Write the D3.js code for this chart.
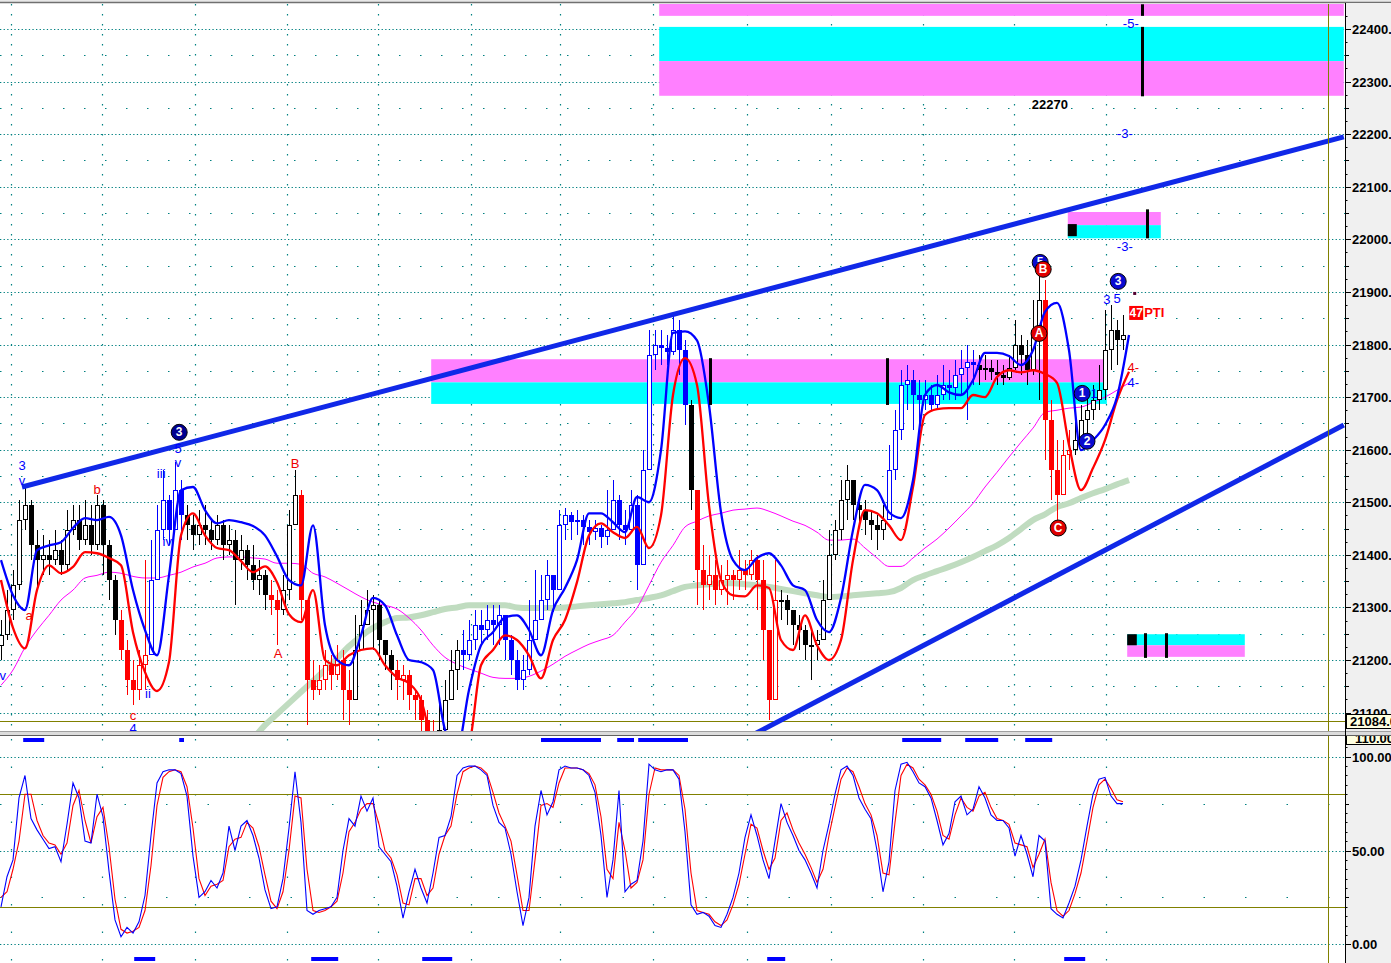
<!DOCTYPE html>
<html><head><meta charset="utf-8">
<script src="https://cdn.jsdelivr.net/npm/d3@7"></script>
<style>body{margin:0;background:#fff;overflow:hidden}svg{display:block;font-family:"Liberation Sans",Arial,sans-serif}</style>
</head><body>
<svg id="chart" width="1391" height="963"></svg>
<script>
// ---------- DATA ----------
const close = [21247,21295,21342,21466,21494,21418,21390,21399,21390,21409,
21380,21447,21466,21428,21456,21418,21494,21418,21352,21276,
21219,21162,21143,21190,21209,21352,21447,21504,21447,21523,
21475,21456,21437,21456,21447,21428,21456,21418,21428,21390,
21409,21380,21352,21361,21323,21314,21295,21333,21456,21514,
21314,21162,21143,21162,21190,21171,21200,21143,21124,21219,
21266,21295,21304,21238,21209,21181,21162,21171,21133,21124,
21086,21057,21048,21067,21124,21181,21219,21209,21238,21266,
21257,21276,21266,21285,21238,21200,21162,21181,21238,21276,
21314,21361,21333,21456,21475,21462,21466,21453,21443,21451,
21434,21447,21504,21456,21447,21494,21380,21561,21780,21799,
21793,21785,21827,21789,21685,21523,21371,21342,21361,21333,
21352,21361,21352,21371,21361,21390,21352,21257,21124,21314,
21314,21295,21266,21257,21228,21228,21238,21314,21399,21447,
21504,21542,21494,21485,21466,21456,21447,21466,21561,21637,
21723,21732,21704,21694,21704,21685,21704,21723,21717,21742,
21755,21766,21761,21751,21755,21747,21742,21736,21755,21799,
21780,21751,21827,21884,21656,21561,21514,21590,21599,21618,
21656,21675,21694,21713,21789,21827,21808,21818];
const high = [21276,21333,21371,21504,21529,21504,21447,21437,21428,21447,
21428,21485,21494,21494,21504,21494,21514,21504,21428,21361,
21295,21238,21200,21219,21390,21428,21494,21561,21514,21576,
21542,21494,21475,21485,21494,21466,21475,21466,21456,21447,
21437,21418,21418,21390,21371,21352,21333,21361,21485,21561,
21523,21314,21200,21190,21219,21209,21228,21219,21181,21285,
21314,21333,21323,21314,21238,21219,21200,21190,21181,21143,
21133,21105,21086,21124,21162,21219,21238,21257,21276,21295,
21295,21304,21304,21304,21285,21247,21219,21209,21314,21371,
21361,21390,21361,21485,21489,21481,21485,21475,21466,21466,
21456,21523,21542,21514,21485,21523,21514,21599,21827,21827,
21827,21818,21856,21846,21808,21694,21523,21418,21399,21390,
21380,21390,21371,21409,21390,21409,21399,21390,21238,21390,
21333,21323,21295,21285,21266,21257,21257,21352,21447,21466,
21542,21571,21542,21514,21504,21485,21475,21494,21609,21675,
21751,21761,21751,21732,21732,21723,21742,21761,21751,21770,
21789,21799,21789,21780,21780,21770,21770,21761,21780,21846,
21818,21808,21884,21941,21923,21694,21618,21618,21637,21656,
21685,21704,21723,21761,21865,21875,21846,21856];
const low = [21200,21238,21276,21333,21447,21390,21333,21361,21361,21380,
21361,21371,21437,21409,21418,21399,21409,21361,21314,21247,
21200,21133,21114,21124,21143,21238,21352,21428,21418,21466,
21428,21428,21409,21418,21418,21409,21418,21390,21399,21304,
21371,21352,21333,21323,21295,21285,21228,21285,21314,21466,
21276,21076,21124,21133,21143,21143,21162,21086,21076,21143,
21219,21266,21219,21200,21181,21143,21124,21124,21105,21086,
21057,21038,21038,21038,21057,21124,21143,21181,21200,21219,
21228,21238,21228,21228,21200,21171,21143,21143,21171,21238,
21276,21295,21291,21352,21428,21428,21437,21418,21418,21428,
21413,21418,21456,21428,21418,21456,21333,21466,21580,21751,
21761,21761,21780,21742,21647,21485,21304,21295,21314,21304,
21323,21304,21314,21333,21333,21352,21295,21200,21086,21238,
21276,21266,21228,21219,21200,21162,21200,21238,21314,21390,
21428,21466,21466,21456,21437,21428,21409,21428,21466,21542,
21618,21675,21637,21647,21675,21675,21679,21694,21694,21694,
21704,21656,21723,21723,21732,21732,21723,21723,21732,21751,
21742,21723,21742,21694,21580,21504,21466,21542,21561,21590,
21609,21628,21656,21675,21694,21751,21761,21789];
// candle colour segments (first bar index of each segment)
const segStart = [0,20,25,31,45,47,50,59,66,73,77,115,116,130,148,163,174,179];
const segKind  = ['plain','down','up','plain','down','plain','down','plain','down','plain','up','plain','down','plain','up','plain','down','plain'];

// smoothed lines, one value every 2 bars
const fastLine = [21390,21323,21295,21409,21418,21424,21451,21470,21466,21472,
21437,21333,21257,21209,21361,21523,21529,21485,21460,21466,
21462,21455,21437,21397,21352,21342,21456,21266,21200,21190,
21247,21318,21304,21247,21200,21196,21181,21067,21029,21143,
21228,21253,21281,21285,21257,21209,21295,21337,21390,21479,
21479,21462,21443,21510,21500,21599,21822,21825,21808,21685,
21481,21390,21371,21394,21403,21380,21342,21333,21276,21253,
21318,21447,21533,21523,21481,21470,21542,21704,21723,21709,
21704,21732,21784,21784,21778,21761,21789,21862,21879,21789,
21599,21618,21647,21700,21818];
const slowLine = [21352,21261,21222,21333,21380,21365,21377,21405,21403,21394,
21380,21253,21177,21141,21196,21437,21479,21437,21413,21409,
21388,21367,21378,21348,21287,21272,21333,21200,21190,21209,
21219,21222,21190,21167,21156,21124,21038,21010,21010,21038,
21190,21219,21247,21238,21209,21165,21238,21276,21348,21437,
21460,21443,21432,21453,21413,21475,21704,21774,21723,21494,
21352,21323,21321,21342,21337,21238,21219,21285,21228,21200,
21238,21390,21485,21479,21456,21428,21529,21666,21677,21679,
21679,21704,21700,21738,21751,21747,21751,21744,21727,21609,
21523,21565,21618,21694,21748];
const maShort = [21152,21181,21224,21257,21285,21314,21333,21356,21361,21367,
21365,21359,21356,21356,21361,21367,21377,21384,21394,21396,
21396,21394,21392,21384,21384,21382,21365,21358,21346,21333,
21320,21310,21304,21297,21280,21257,21228,21205,21192,21183,
21175,21167,21165,21165,21169,21179,21192,21207,21219,21230,
21238,21247,21272,21299,21342,21386,21418,21453,21464,21474,
21479,21485,21487,21489,21483,21474,21464,21456,21443,21428,
21428,21430,21413,21394,21378,21378,21394,21413,21430,21451,
21474,21498,21529,21557,21586,21614,21641,21671,21675,21679,
21681,21690,21700,21713,21727];
const maLong = [null,null,null,null,null,null,null,null,null,null,
null,null,null,null,null,null,null,null,null,null,null,
21050,21076,21097,21118,21139,21160,21181,21203,21226,21245,21261,21272,21280,21281,
21285,21291,21297,21300,21304,21304,21304,21304,21300,21299,21299,21299,21300,21302,
21304,21306,21308,21310,21314,21318,21323,21331,21339,21342,21344,21346,21346,21344,
21342,21339,21335,21331,21327,21323,21320,21321,21323,21325,21327,21329,21337,21352,
21361,21369,21377,21386,21396,21407,21418,21432,21449,21466,21477,21491,21498,21508,
21517,21525,21534,21542];

// stochastic (lower panel)
const stochK = [20,36,45,78,90,67,61,56,51,52, 44,64,86,78,55,54,80,68,39,13,
4,9,6,12,26,58,86,92,93,93, 91,79,47,25,28,34,30,38,63,50,
63,66,58,46,29,19,20,35,62,92, 65,18,16,18,19,20,25,50,67,63,
79,71,78,52,48,44,31,14,28,40, 30,22,38,57,58,68,90,94,95,95,
93,90,74,65,62,48,28,10,25,63, 82,69,76,93,95,94,94,93,90,81,
58,25,45,82,28,32,34,55,96,93, 92,93,93,88,60,21,16,17,15,10,
9,16,25,38,57,69,58,45,35,55, 75,65,58,50,45,38,30,50,64,80,
93,95,90,78,72,67,50,28,44,82, 96,97,92,86,84,78,66,53,59,76,
79,69,72,84,78,69,66,66,62,47, 58,48,36,58,55,19,16,14,22,31,
45,63,80,88,89,79,75,75];
const stochD = [25,28,40,55,80,80,66,58,54,53, 48,54,74,82,66,54,68,73,52,24,
8,6,7,9,18,42,74,89,92,93, 92,84,62,35,26,31,32,34,52,56,
57,65,62,52,37,23,19,28,50,79, 78,40,18,17,18,20,23,38,60,65,
72,75,75,64,50,46,37,22,21,35, 35,26,30,48,58,63,80,92,94,95,
94,91,81,70,63,55,37,18,18,45, 74,75,73,86,94,94,94,93,91,85,
68,40,35,65,50,30,33,45,80,94, 93,93,93,90,72,38,18,17,16,12,
10,13,21,32,48,64,62,50,40,46, 66,70,61,54,48,41,33,40,58,73,
88,94,92,84,75,69,58,38,37,65, 90,96,94,88,85,80,71,58,56,69,
78,73,71,79,81,73,67,66,64,54, 53,52,41,48,56,33,18,15,18,27,
38,55,73,85,88,83,77,76];

// axis ticks / grid
const priceTicks = [21100,21200,21300,21400,21500,21600,21700,21800,21900,22000,22100,22200,22300,22400];
const oscTicks = [0,50,100];
const gridBars = [1.7,16.8,32.3,47.7,62.8,78.3,93.2,108.7,124.3,138.3,153.7,168.8,184.2];
const lastPrice = 21084;
const oscLevels = [20,80];
const oscTop = 110;

// trend channel [bar, price]
const trendUpper = [[3.5,21529],[223.8,22195]];
const trendLower = [[123.2,21045],[223.8,21647]];

// zones
const bandX0 = [109.7,109.7,109.7,71.7,71.7,177.8,177.8,187.7,187.7];
const bandX1 = [223.8,223.8,223.8,184.3,184.3,193.3,193.3,207.3,207.3];
const bandHi = [22460,22404,22339,21772,21728,22052,22027,21249,21228];
const bandLo = [22425,22339,22273,21728,21687,22027,22002,21228,21206];
const bandKind = ['sell','buy','sell','sell','buy','sell','buy','buy','sell'];
const blockX0 = [177.8,187.7], blockX1 = [179.3,189.3], blockHi = [22029,21249], blockLo = [22006,21228];
const markBar = [190.2,190.2,118.2,147.7,191,190.7,194.2];
const markHi  = [22447,22404,21774,21774,22057,21251,21251];
const markLo  = [22425,22272,21685,21685,22002,21204,21204];
const targetText = '22270', targetBar = 174.8, targetPrice = 22257;

// signal strips
const mainSigStart = [3.7,29.7,90,102.7,106.2,150.2,160.7,170.7];
const mainSigEnd   = [7.2,30.5,100,105.5,114.5,156.7,166.2,175.2];
const lowSigStart  = [22.2,51.7,70.2,127.7,177.2];
const lowSigEnd    = [25.7,56.2,75.2,130.7,180.7];

// wave labels
const lblText  = ['3','v','5','v','iii','iv','ii','v','4','a','b','c','A','B','-3-','-3-','-5-','3','5','4-','4-','1'];
const lblBar   = [3.5,3.5,29.5,29.5,26.7,27.7,24.5,0.3,22,4.7,16,22,46.2,49,187.3,187.3,188.3,184.3,186,188.7,188.7,182.2];
const lblPrice = [21569,21542,21603,21576,21555,21426,21137,21171,21070,21285,21525,21095,21213,21574,22202,21987,22410,21886,21888,21757,21727,21707];
const lblKind  = ['w','w','w','w','w','w','w','w','w','c','c','c','c','c','w','w','w','w','w','c','w','w'];
const circText  = ['3','5','B','A','3','1','2','C'];
const circBar   = [29.7,173.2,173.7,173,186.2,180.2,181,176.2];
const circPrice = [21633,21956,21943,21821,21920,21707,21616,21451];
const circKind  = ['navy','w','c','c','w','w','w','c'];
const ptiValue = 47, ptiBar = 189.2, ptiPrice = 21860;

// ---------- DRAW ----------
const W = 1391, H = 963, AX = 1345;
const MT = 4, MB = 731, LT = 739, LB = 963;
const svg = d3.select('#chart');
const x = d3.scaleLinear().domain([0,224]).range([1,1345]);
const y = d3.scaleLinear().domain([21200,22400]).range([660,29]);
const y2 = d3.scaleLinear().domain([0,100]).range([944.3,756.7]);
const TEAL = '#008080', OLIVE = '#808000';

svg.append('rect').attr('width',W).attr('height',H).attr('fill','#fff');
const defs = svg.append('defs');
defs.append('clipPath').attr('id','cm').append('rect').attr('x',0).attr('y',MT).attr('width',AX).attr('height',MB-MT);
defs.append('clipPath').attr('id','cl').append('rect').attr('x',0).attr('y',LT).attr('width',AX).attr('height',LB-LT);
const gm = svg.append('g').attr('clip-path','url(#cm)');
const gl = svg.append('g').attr('clip-path','url(#cl)');

// grid main
const half = d3.range(21050,22500,100);
gm.selectAll('.hs').data(half).join('line').attr('x1',0).attr('x2',AX).attr('y1',d=>Math.round(y(d))+0.5).attr('y2',d=>Math.round(y(d))+0.5)
  .attr('stroke',TEAL).attr('stroke-width',1.2).attr('stroke-dasharray','1.5,19.5');
gm.selectAll('.hd').data(priceTicks).join('line').attr('x1',0).attr('x2',AX).attr('y1',d=>Math.round(y(d))+0.5).attr('y2',d=>Math.round(y(d))+0.5)
  .attr('stroke',TEAL).attr('stroke-width',1.2).attr('stroke-dasharray','1.3,2.3');
gm.selectAll('.vg').data(gridBars).join('line').attr('x1',d=>Math.round(x(d))+0.5).attr('x2',d=>Math.round(x(d))+0.5).attr('y1',MT).attr('y2',MB)
  .attr('stroke',TEAL).attr('stroke-width',1.2).attr('stroke-dasharray','1.5,8.5');

// bands
gm.selectAll('.band').data(bandX0).join('rect')
  .attr('x',(d,i)=>x(bandX0[i])).attr('width',(d,i)=>x(bandX1[i])-x(bandX0[i]))
  .attr('y',(d,i)=>y(bandHi[i])).attr('height',(d,i)=>y(bandLo[i])-y(bandHi[i]))
  .attr('fill',(d,i)=>bandKind[i]==='sell'?'#ff80ff':'#00ffff');
gm.selectAll('.blk').data(blockX0).join('rect')
  .attr('x',(d,i)=>x(blockX0[i])).attr('width',(d,i)=>x(blockX1[i])-x(blockX0[i]))
  .attr('y',(d,i)=>y(blockHi[i])).attr('height',(d,i)=>y(blockLo[i])-y(blockHi[i])).attr('fill','#000');

// last price line
gm.append('line').attr('x1',0).attr('x2',AX).attr('y1',Math.round(y(lastPrice))+0.5).attr('y2',Math.round(y(lastPrice))+0.5).attr('stroke',OLIVE).attr('stroke-width',1);

// moving averages
const lineIdx = (arr,scale)=>d3.line().defined(d=>d!=null).x((d,j)=>x(2*j)).y(d=>scale(d)).curve(d3.curveMonotoneX)(arr);
gm.append('path').attr('d',lineIdx(maLong,y)).attr('fill','none').attr('stroke','#c0dcc0').attr('stroke-width',6);
gm.append('path').attr('d',lineIdx(maShort,y)).attr('fill','none').attr('stroke','#ff00ff').attr('stroke-width',1);

// candles
const kindAt = i => { let k='plain'; for (let s=0;s<segStart.length;s++) if (i>=segStart[s]) k=segKind[s]; return k; };
const kindCol = {plain:'#000000', down:'#ff0000', up:'#0000ff'};
const cg = gm.append('g').attr('shape-rendering','crispEdges');
close.forEach((c,i)=>{
  const o = i>0 ? close[i-1] : c-20;
  const col = kindCol[kindAt(i)];
  const cx = Math.round(x(i));
  const hi = Math.max(high[i],o,c), lo = Math.min(low[i],o,c);
  cg.append('line').attr('x1',cx+0.5).attr('x2',cx+0.5).attr('y1',y(hi)).attr('y2',y(lo)).attr('stroke',col).attr('stroke-width',1);
  const top = Math.round(y(Math.max(o,c))), bot = Math.round(y(Math.min(o,c)));
  const h = Math.max(1,bot-top);
  if (c>=o) cg.append('rect').attr('x',cx-1.5).attr('y',top+0.5).attr('width',4).attr('height',Math.max(1,h-1)).attr('fill','#fff').attr('stroke',col).attr('stroke-width',1);
  else cg.append('rect').attr('x',cx-2).attr('y',top).attr('width',5).attr('height',h).attr('fill',col);
});

// smoothed lines
gm.append('path').attr('d',lineIdx(slowLine,y)).attr('fill','none').attr('stroke','#ff0000').attr('stroke-width',2.3);
gm.append('path').attr('d',lineIdx(fastLine,y)).attr('fill','none').attr('stroke','#0000ff').attr('stroke-width',2.3);

// trend lines
[trendUpper,trendLower].forEach(t=>{
  gm.append('line').attr('x1',x(t[0][0])).attr('y1',y(t[0][1])).attr('x2',x(t[1][0])).attr('y2',y(t[1][1]))
    .attr('stroke','#1028e8').attr('stroke-width',5);
});

// black marker bars
gm.selectAll('.mk').data(markBar).join('line').attr('x1',d=>Math.round(x(d))+0.5).attr('x2',d=>Math.round(x(d))+0.5)
  .attr('y1',(d,i)=>y(markHi[i])).attr('y2',(d,i)=>y(markLo[i])).attr('stroke','#000').attr('stroke-width',3);

// target label
gm.append('text').attr('x',x(targetBar)).attr('y',y(targetPrice)).attr('text-anchor','middle').attr('dominant-baseline','central')
  .attr('font-size',13).attr('font-weight','bold').attr('fill','#000').text(targetText);

// wave labels
gm.selectAll('.lbl').data(lblText).join('text').attr('x',(d,i)=>x(lblBar[i])).attr('y',(d,i)=>y(lblPrice[i]))
  .attr('text-anchor','middle').attr('dominant-baseline','central').attr('font-size',13)
  .attr('fill',(d,i)=>lblKind[i]==='c'?'#ee0000':'#0000ff').text(d=>d);

// circles
const circFill = {navy:'#000090', w:'#0a0ad0', c:'#e00000'};
circText.forEach((t,i)=>{
  const g = gm.append('g').attr('transform',`translate(${x(circBar[i])},${y(circPrice[i])})`);
  g.append('circle').attr('r',8).attr('fill',circFill[circKind[i]]).attr('stroke','#000').attr('stroke-width',1);
  g.append('text').attr('text-anchor','middle').attr('dominant-baseline','central').attr('font-size',12).attr('font-weight','bold').attr('fill','#fff').text(t);
});

// PTI
const px = x(ptiBar), py = y(ptiPrice);
gm.append('rect').attr('x',px-7).attr('y',py-7).attr('width',14).attr('height',14).attr('fill','#ff0000');
gm.append('text').attr('x',px).attr('y',py).attr('text-anchor','middle').attr('dominant-baseline','central').attr('font-size',12).attr('font-weight','bold').attr('fill','#fff').text(ptiValue);
gm.append('text').attr('x',px+8).attr('y',py).attr('dominant-baseline','central').attr('font-size',13).attr('font-weight','bold').attr('fill','#ff0000').text('PTI');
gm.append('rect').attr('x',px-3).attr('y',py-21).attr('width',3).attr('height',3).attr('fill','#500030');

// ---------- lower panel ----------
gl.selectAll('.ld').data(oscTicks).join('line').attr('x1',0).attr('x2',AX).attr('y1',d=>Math.round(y2(d))+0.5).attr('y2',d=>Math.round(y2(d))+0.5)
  .attr('stroke',TEAL).attr('stroke-width',1.2).attr('stroke-dasharray','1.3,2.3');
gl.selectAll('.ls').data([25,75]).join('line').attr('x1',0).attr('x2',AX).attr('y1',d=>Math.round(y2(d))+0.5).attr('y2',d=>Math.round(y2(d))+0.5)
  .attr('stroke',TEAL).attr('stroke-width',1.2).attr('stroke-dasharray','1.5,40');
gl.selectAll('.lv').data(gridBars).join('line').attr('x1',d=>Math.round(x(d))+0.5).attr('x2',d=>Math.round(x(d))+0.5).attr('y1',LT).attr('y2',LB)
  .attr('stroke',TEAL).attr('stroke-width',1.2).attr('stroke-dasharray','1.5,26');
gl.selectAll('.ol').data(oscLevels).join('line').attr('x1',0).attr('x2',AX).attr('y1',d=>Math.round(y2(d))+0.5).attr('y2',d=>Math.round(y2(d))+0.5)
  .attr('stroke',OLIVE).attr('stroke-width',1.2);
const sline = d3.line().x((d,i)=>x(i)).y(d=>y2(d));
gl.append('path').attr('d',sline(stochD)).attr('fill','none').attr('stroke','#ff0000').attr('stroke-width',1.1);
gl.append('path').attr('d',sline(stochK)).attr('fill','none').attr('stroke','#0000ff').attr('stroke-width',1.1);
gl.selectAll('.ss').data(lowSigStart).join('rect').attr('x',(d,i)=>x(lowSigStart[i])).attr('width',(d,i)=>x(lowSigEnd[i])-x(lowSigStart[i]))
  .attr('y',957).attr('height',4).attr('fill','#0000ff');

// current-bar vertical line
svg.append('line').attr('x1',1328.5).attr('x2',1328.5).attr('y1',MT).attr('y2',H).attr('stroke',OLIVE).attr('stroke-width',1);

// top frame
svg.append('rect').attr('x',0).attr('y',0).attr('width',W).attr('height',2).attr('fill','#e8e8e8');
svg.append('line').attr('x1',0).attr('x2',W).attr('y1',2.5).attr('y2',2.5).attr('stroke','#707070').attr('stroke-width',1.5);

// right axis
svg.append('rect').attr('x',AX).attr('y',3).attr('width',W-AX).attr('height',H-3).attr('fill','#f0f0f0');
const ax = svg.append('g').attr('font-size',13).attr('font-weight','bold').attr('fill','#000');
d3.range(21075,22450,25).forEach(v=>{
  if (v%100===0) return;
  const len = v%50===0 ? 3 : 1.5;
  ax.append('line').attr('x1',AX+1).attr('x2',AX+1+len).attr('y1',Math.round(y(v))+0.5).attr('y2',Math.round(y(v))+0.5).attr('stroke','#000');
});
priceTicks.forEach(v=>{
  const yy = Math.round(y(v))+0.5;
  ax.append('line').attr('x1',AX).attr('x2',AX+6).attr('y1',yy).attr('y2',yy).attr('stroke','#000');
  ax.append('text').attr('x',AX+7).attr('y',yy).attr('dominant-baseline','central').text(v.toFixed(2));
});
d3.range(5,110,5).forEach(v=>{
  if (v%50===0) return;
  const len = v%25===0 ? 3 : 1.5;
  ax.append('line').attr('x1',AX+1).attr('x2',AX+1+len).attr('y1',Math.round(y2(v))+0.5).attr('y2',Math.round(y2(v))+0.5).attr('stroke','#000');
});
oscTicks.forEach(v=>{
  const yy = Math.round(y2(v))+0.5;
  ax.append('line').attr('x1',AX).attr('x2',AX+6).attr('y1',yy).attr('y2',yy).attr('stroke','#000');
  ax.append('text').attr('x',AX+7).attr('y',yy).attr('dominant-baseline','central').text(v.toFixed(2));
});

// oscillator top label (partly covered by the separator)
ax.append('rect').attr('x',AX+1.5).attr('y',731.5).attr('width',W-AX).attr('height',13).attr('fill','#ffffe1').attr('stroke','#000');
ax.append('text').attr('x',AX+10).attr('y',738.5).attr('dominant-baseline','central').text(oscTop.toFixed(2));

// panel separator
svg.append('rect').attr('x',0).attr('y',731).attr('width',W).attr('height',5).attr('fill','#dcdcdc');
svg.append('line').attr('x1',0).attr('x2',W).attr('y1',731.5).attr('y2',731.5).attr('stroke','#a0a0a0');
svg.append('line').attr('x1',0).attr('x2',W).attr('y1',735.5).attr('y2',735.5).attr('stroke','#606060');

// signal strip under main panel
svg.selectAll('.ms').data(mainSigStart).join('rect').attr('x',(d,i)=>x(mainSigStart[i])).attr('width',(d,i)=>x(mainSigEnd[i])-x(mainSigStart[i]))
  .attr('y',738).attr('height',4).attr('fill','#0000ff');

// last price box (centred on the price line)
const ly = Math.round(y(lastPrice));
ax.append('rect').attr('x',AX+1.5).attr('y',ly-6.5).attr('width',W-AX).attr('height',14).attr('fill','#ffffe1').attr('stroke','#000');
ax.append('text').attr('x',AX+5).attr('y',ly+0.5).attr('dominant-baseline','central').text(lastPrice.toFixed(2));
svg.append('line').attr('x1',AX+0.5).attr('x2',AX+0.5).attr('y1',3).attr('y2',H).attr('stroke','#000');
</script>
</body></html>
